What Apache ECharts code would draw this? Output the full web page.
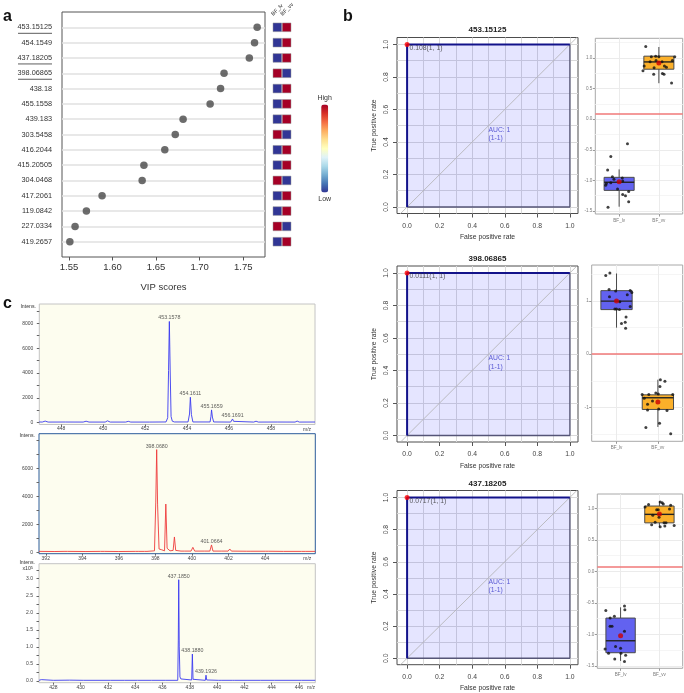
<!DOCTYPE html>
<html>
<head>
<meta charset="utf-8">
<script src="https://cdn.jsdelivr.net/npm/echarts@6.0.0/dist/echarts.min.js"></script>
<style>html,body{margin:0;padding:0;background:#fff;}#chart{width:684px;height:693px;}</style>
</head>
<body>
<div id="chart"></div>
<script>
// ================= DATA =================
// Panel a : VIP scores
const vipFeatures = ['453.15125','454.1549','437.18205','398.06865','438.18','455.1558','439.183','303.5458','416.2044','415.20505','304.0468','417.2061','119.0842','227.0334','419.2657'];
const vipScores   = [1.766,1.763,1.757,1.728,1.724,1.712,1.681,1.672,1.660,1.636,1.634,1.588,1.570,1.557,1.551];
const vipTicks    = [1.55,1.60,1.65,1.70,1.75];
const underlined  = ['453.15125','437.18205','398.06865'];
const heatGroups  = ['BF_lv','BF_vv'];
const heatLv      = [-1,-1,-1, 1,-1,-1,-1, 1,-1,-1, 1,-1,-1, 1,-1];
const heatVv      = [ 1, 1, 1,-1, 1, 1, 1,-1, 1, 1,-1, 1, 1,-1, 1];
const legendText  = ['High','Low'];

// Panel b : ROC curves
const rocTitles     = ['453.15125','398.06865','437.18205'];
const rocThresholds = ['0.108','0.0111','0.0717'];
const rocFpr  = [0,0,1];
const rocTpr  = [0,1,1];
const rocEdgeFpr = [1,1,0];
const rocEdgeTpr = [1,0,0];
const rocDiag = [-0.1,1.1];
const rocAucText = 'AUC: 1\n(1-1)';
const rocAucPos = [0.5,0.5];
const rocTicks = [0,0.2,0.4,0.6,0.8,1.0];
const rocGrid  = [0,0.1,0.2,0.3,0.4,0.5,0.6,0.7,0.8,0.9,1.0];

// Panel b : box plots
const bpGroups = ['BF_lv','BF_vv'];
const bp1LvX = [1.21,0.79,0.71,0.83,0.87,1.08,0.68,0.79,0.66,0.96,1.24,1.09,1.16,1.24,0.72,1.09];
const bp1LvY = [-0.40,-0.61,-0.83,-0.94,-0.98,-0.96,-1.05,-1.04,-1.08,-1.14,-1.18,-1.23,-1.25,-1.35,-1.44,-1.01];
const bp1VvX = [1.67,1.81,1.92,2.00,2.40,2.34,1.78,2.08,1.93,1.63,2.14,2.19,1.88,1.60,1.87,2.09,2.13,2.32];
const bp1VvY = [1.19,1.02,1.03,1.02,1.02,0.96,0.94,0.94,0.96,0.87,0.87,0.85,0.84,0.79,0.735,0.745,0.735,0.59];
const bp1Box = [[-1.43,-1.163,-1.03,-0.95,-0.82],[0.588,0.817,0.936,1.03,1.18]];
const bp1Mean = [-1.02,0.92];
const bp1Cut = 0.09;
const bp1Major = [-1.5,-1.0,-0.5,0.0,0.5,1.0];
const bp1Minor = [-1.25,-0.75,-0.25,0.25,0.75,1.25];

const bp2LvX = [0.74,0.84,0.82,0.98,1.33,1.37,0.83,1.26,1.08,1.33,0.96,1.00,1.07,1.23,1.21,1.12,1.22];
const bp2LvY = [1.48,1.53,1.22,1.19,1.20,1.16,1.08,1.12,0.99,0.90,0.85,0.85,0.84,0.70,0.60,0.58,0.49];
const bp2VvX = [2.06,2.17,2.05,1.62,1.78,1.95,2.01,2.36,1.67,1.87,1.75,2.02,1.75,2.22,2.04,1.71,2.31];
const bp2VvY = [-0.48,-0.51,-0.61,-0.76,-0.76,-0.73,-0.75,-0.76,-0.83,-0.88,-0.94,-1.03,-1.05,-1.06,-1.30,-1.38,-1.50];
const bp2Box = [[0.50,0.84,1.0,1.197,1.52],[-1.37,-1.04,-0.82,-0.765,-0.48]];
const bp2Mean = [1.0,-0.90];
const bp2Cut = 0.0;
const bp2Major = [-1,0,1];
const bp2Minor = [-1.5,-0.5,0.5,1.5];

const bp3LvX = [1.10,1.11,0.62,0.84,0.73,0.73,0.78,1.10,0.87,1.00,0.60,0.69,1.01,1.13,0.85,1.10];
const bp3LvY = [-0.55,-0.61,-0.62,-0.71,-0.74,-0.87,-0.87,-0.95,-1.19,-1.22,-1.23,-1.30,-1.30,-1.33,-1.39,-1.43];
const bp3VvX = [1.63,1.72,2.02,2.07,2.10,2.29,1.93,1.97,2.26,1.83,1.99,1.80,1.89,2.12,2.17,2.02,2.14,2.38];
const bp3VvY = [1.02,1.06,1.10,1.09,1.07,1.05,0.98,0.98,0.99,0.89,0.86,0.74,0.78,0.77,0.77,0.71,0.72,0.73];
const bp3Box = [[-1.42,-1.29,-1.10,-0.74,-0.57],[0.70,0.77,0.905,1.037,1.115]];
const bp3Mean = [-1.02,0.91];
const bp3Cut = 0.07;
const bp3Major = [-1.5,-1.0,-0.5,0.0,0.5,1.0];
const bp3Minor = [-1.25,-0.75,-0.25,0.25,0.75,1.25];

// Panel c : mass spectra
const spec1Mz  = [446.96,447.10,447.24,447.38,448.20,449.05,449.19,449.33,450.10,450.21,450.34,451.08,451.20,451.32,452.00,452.09,452.20,453.00,453.08,453.12,453.158,453.20,453.24,453.30,453.40,454.05,454.12,454.16,454.21,454.28,455.10,455.14,455.17,455.21,455.27,456.08,456.13,456.17,456.22,456.30,457.18,457.29,457.40,458.30,459.15,459.25,459.35,460.10];
const spec1Int = [60,50,130,50,55,50,120,50,50,150,50,50,110,50,50,100,50,60,400,4200,8150,4000,500,120,60,60,700,2050,650,60,60,500,1030,450,60,50,120,300,110,50,50,120,50,55,50,130,50,55];
const spec1PeakMz  = [453.158,454.16,455.17,456.17];
const spec1PeakInt = [8150,2050,1030,300];
const spec1PeakTxt = ['453.1578','454.1611','455.1659','456.1691'];
const spec1XTicks = [448,450,452,454,456,458];
const spec1YTicks = [0,2000,4000,6000,8000];
const spec1YMinor = [0,1000,2000,3000,4000,5000,6000,7000,8000,9000];

const spec2Mz  = [391.63,392.50,393.00,393.09,393.18,394.20,395.00,395.10,395.20,396.00,396.90,396.98,397.06,397.40,397.47,397.54,397.95,398.02,398.07,398.12,398.20,398.26,398.33,398.50,398.57,398.64,398.80,398.97,399.04,399.11,399.40,399.50,399.60,399.95,400.05,400.15,400.70,400.98,401.07,401.15,401.60,401.98,402.07,402.16,403.00,403.09,403.18,404.02,404.10,404.18,405.00,406.00,406.10,406.20,406.75];
const spec2Int = [80,70,80,200,80,70,80,180,80,70,80,170,80,80,200,80,120,3600,7350,3400,250,350,200,120,3460,300,120,150,1110,150,100,220,100,100,370,100,100,100,540,100,100,100,250,100,90,200,90,90,180,90,80,80,160,80,80];
const spec2PeakMz  = [398.07,401.07];
const spec2PeakInt = [7350,540];
const spec2PeakTxt = ['398.0680','401.0664'];
const spec2XTicks = [392,394,396,398,400,402,404];
const spec2YTicks = [0,2000,4000,6000];
const spec2YMinor = [0,1000,2000,3000,4000,5000,6000,7000,8000];

const spec3Mz  = [426.95,427.05,427.12,427.20,428.00,429.20,430.20,431.20,432.18,432.25,432.32,433.20,433.26,433.32,434.17,434.23,434.30,435.20,436.20,437.12,437.16,437.19,437.23,437.28,437.35,437.45,438.14,438.19,438.24,438.30,439.14,439.19,439.24,439.30,440.10,440.20,440.30,441.15,441.22,441.30,442.20,443.20,444.20,445.20,446.20,447.20];
const spec3Int = [0.02,0.02,0.04,0.02,0.02,0.025,0.02,0.02,0.02,0.06,0.02,0.02,0.04,0.02,0.02,0.05,0.02,0.02,0.02,0.02,1.2,2.97,1.0,0.12,0.06,0.03,0.03,0.79,0.05,0.02,0.02,0.17,0.03,0.02,0.02,0.035,0.02,0.02,0.03,0.02,0.02,0.02,0.02,0.02,0.02,0.02];
const spec3PeakMz  = [437.19,438.19,439.19];
const spec3PeakInt = [2.97,0.79,0.17];
const spec3PeakTxt = ['437.1850','438.1880','439.1926'];
const spec3XTicks = [428,430,432,434,436,438,440,442,444,446];
const spec3YTicks = [0,0.5,1.0,1.5,2.0,2.5,3.0];
const spec3YMinor = [0,0.25,0.5,0.75,1.0,1.25,1.5,1.75,2.0,2.25,2.5,2.75,3.0,3.25];

// ================= BUILD =================
const FONT = '"Liberation Sans", Arial, Helvetica, sans-serif';
const grids = [], xAxes = [], yAxes = [], series = [], graphics = [];
function addGrid(g){ grids.push(g); return grids.length - 1; }
function addX(a){ xAxes.push(a); return xAxes.length - 1; }
function addY(a){ yAxes.push(a); return yAxes.length - 1; }
const NOLINE = {show:false, onZero:false};
function helperAxis(gridIndex, min, max, pos, vals, color){
  return {gridIndex, type:'value', min, max, position:pos,
    axisLine:NOLINE, axisLabel:{show:false},
    axisTick:{show:false, customValues:vals},
    splitLine:{show:true, lineStyle:{color, width:1}}};
}

// ---- Panel a: VIP dot plot ----
const vipIdx = vipFeatures.map((_, i) => i);
const gA = addGrid({left:62, top:12, width:203, height:245, show:true, borderColor:'#555', borderWidth:1, backgroundColor:'#fff'});
const xA = addX({gridIndex:gA, type:'value', min:1.542, max:1.775, position:'bottom',
  axisLine:NOLINE,
  axisTick:{show:true, length:3.5, customValues:vipTicks, lineStyle:{color:'#555'}},
  axisLabel:{customValues:vipTicks, formatter:v => v.toFixed(2), fontSize:9.5, color:'#333', margin:5},
  splitLine:{show:false},
  name:'VIP scores', nameLocation:'middle', nameGap:25, nameTextStyle:{fontSize:9.5, color:'#333'}});
const yA = addY({gridIndex:gA, type:'value', min:-1, max:15, inverse:true, position:'left',
  axisLine:NOLINE,
  axisTick:{show:false, customValues:vipIdx},
  axisLabel:{customValues:vipIdx, formatter:v => vipFeatures[Math.round(v)] || '', fontSize:7.3, color:'#333', margin:10},
  splitLine:{show:true, lineStyle:{color:'#e0e0e0', width:1.5}}});
series.push({type:'scatter', xAxisIndex:xA, yAxisIndex:yA, data:vipScores.map((v, i) => [v, i]),
  symbolSize:7.5, itemStyle:{color:'#474747'}, z:5, silent:true});

// ---- heat strip ----
const gH = addGrid({left:272.7, top:12, width:18.6, height:245});
const xH = addX({gridIndex:gH, type:'category', data:heatGroups, position:'top',
  axisLine:NOLINE, axisTick:{show:false}, axisLabel:{show:false}});
const yH = addY({gridIndex:gH, type:'value', min:-1, max:15, inverse:true, show:false, axisLine:NOLINE});
const heatData = [];
vipFeatures.forEach((_, i) => { heatData.push([0, i, heatLv[i]]); heatData.push([1, i, heatVv[i]]); });
const heatSeriesIndex = series.length;
series.push({type:'scatter', xAxisIndex:xH, yAxisIndex:yH, data:heatData, symbol:'rect', symbolSize:8.7,
  itemStyle:{borderColor:'#999', borderWidth:0.5, opacity:1}, silent:true});

// ---- Panel b: ROC curves ----
const RF = 6.8;
const rocLayout = [{top:37.5, height:176, title:30}, {top:266, height:176, title:258.5}, {top:490.5, height:175, title:484}];
rocLayout.forEach((L, r) => {
  const g = addGrid({left:397, top:L.top, width:181, height:L.height, show:true, borderColor:'#4d4d4d', borderWidth:1, backgroundColor:'#fff'});
  const xm = addX({gridIndex:g, type:'value', min:-0.062, max:1.05, position:'bottom',
    axisLine:NOLINE,
    axisTick:{show:true, length:4, customValues:rocTicks, lineStyle:{color:'#555'}},
    axisLabel:{customValues:rocTicks, formatter:v => v.toFixed(1), fontSize:RF, color:'#444', margin:9},
    splitLine:{show:false},
    name:'False positive rate', nameLocation:'middle', nameGap:20.3, nameTextStyle:{fontSize:RF, color:'#333'}});
  addX(helperAxis(g, -0.062, 1.05, 'top', rocGrid, '#d9d9d9'));
  const ym = addY({gridIndex:g, type:'value', min:-0.04, max:1.043, position:'left',
    axisLine:NOLINE,
    axisTick:{show:true, length:4, customValues:rocTicks, lineStyle:{color:'#555'}},
    axisLabel:{customValues:rocTicks, formatter:v => v.toFixed(1), rotate:90, fontSize:RF, color:'#444', margin:7},
    splitLine:{show:false},
    name:'True positive rate', nameLocation:'middle', nameGap:19.6, nameTextStyle:{fontSize:RF, color:'#333'}});
  addY(helperAxis(g, -0.04, 1.043, 'right', rocGrid, '#d9d9d9'));
  const curve = rocFpr.map((x, i) => [x, rocTpr[i]]);
  series.push({type:'line', xAxisIndex:xm, yAxisIndex:ym, data:curve, symbol:'none',
    lineStyle:{width:0}, areaStyle:{color:'rgba(30,30,255,0.16)', origin:0}, z:2, silent:true});
  series.push({type:'line', xAxisIndex:xm, yAxisIndex:ym, data:rocDiag.map(v => [v, v]), symbol:'none',
    lineStyle:{color:'#b0b0b0', width:0.8}, z:3, silent:true});
  series.push({type:'line', xAxisIndex:xm, yAxisIndex:ym, data:rocEdgeFpr.map((x, i) => [x, rocEdgeTpr[i]]), symbol:'none',
    lineStyle:{color:'#555577', width:1.3}, z:3, silent:true});
  series.push({type:'line', xAxisIndex:xm, yAxisIndex:ym, data:curve, symbol:'none',
    lineStyle:{color:'#12128a', width:2}, z:4, silent:true});
  series.push({type:'scatter', xAxisIndex:xm, yAxisIndex:ym, data:[[rocFpr[1], rocTpr[1]]], symbolSize:5,
    itemStyle:{color:'#ff0000'}, z:6, silent:true,
    label:{show:true, position:'right', distance:1, offset:[-1, 3.5], formatter:() => rocThresholds[r] + '(1, 1)', fontSize:RF, color:'#333', fontFamily:FONT}});
  series.push({type:'scatter', xAxisIndex:xm, yAxisIndex:ym, data:[rocAucPos], symbolSize:0, z:6, silent:true,
    label:{show:true, position:[0, 0], align:'left', verticalAlign:'top', formatter:rocAucText, fontSize:RF, lineHeight:8.5, color:'#3434c8', fontFamily:FONT}});
  graphics.push({type:'text', id:'rt' + r, x:487.5, y:L.title,
    style:{text:rocTitles[r], font:'bold 8px ' + FONT, fill:'#222', align:'center', verticalAlign:'middle', textAlign:'center', textVerticalAlign:'middle'}});
});

// ---- Panel b: box plots ----
const bpSets = [
  {lvX:bp1LvX, lvY:bp1LvY, vvX:bp1VvX, vvY:bp1VvY, box:bp1Box, mean:bp1Mean, cut:bp1Cut, major:bp1Major, minor:bp1Minor, fmt:v => v.toFixed(1)},
  {lvX:bp2LvX, lvY:bp2LvY, vvX:bp2VvX, vvY:bp2VvY, box:bp2Box, mean:bp2Mean, cut:bp2Cut, major:bp2Major, minor:bp2Minor, fmt:v => String(v)},
  {lvX:bp3LvX, lvY:bp3LvY, vvX:bp3VvX, vvY:bp3VvY, box:bp3Box, mean:bp3Mean, cut:bp3Cut, major:bp3Major, minor:bp3Minor, fmt:v => v.toFixed(1)}
];
const bpLayout = [
  {left:595.3, top:38.3, width:87.4, height:175.7, min:-1.549, max:1.322},
  {left:591.7, top:265, width:91, height:176.3, min:-1.64, max:1.68},
  {left:597.3, top:494, width:85.4, height:174.3, min:-1.537, max:1.228}
];
const boxFill = ['#6262f0', '#fbb02a'];
const boxHalfWidth = 0.378;
bpSets.forEach((S, b) => {
  const L = bpLayout[b];
  const g = addGrid({left:L.left, top:L.top, width:L.width, height:L.height, show:true, borderColor:'#a8a8a8', borderWidth:1, backgroundColor:'#fff'});
  const xm = addX({gridIndex:g, type:'value', min:0.4, max:2.6, position:'bottom',
    axisLine:NOLINE,
    axisTick:{show:true, length:2.5, customValues:[1, 2], lineStyle:{color:'#999'}},
    axisLabel:{customValues:[1, 2], formatter:v => bpGroups[Math.round(v) - 1], fontSize:4.6, color:'#7a7a7a', margin:4},
    splitLine:{show:true, lineStyle:{color:'#ebebeb'}}});
  const ym = addY({gridIndex:g, type:'value', min:L.min, max:L.max, position:'left',
    axisLine:NOLINE,
    axisTick:{show:true, length:2.5, customValues:S.major, lineStyle:{color:'#999'}},
    axisLabel:{customValues:S.major, formatter:S.fmt, fontSize:4.6, color:'#7a7a7a', margin:3},
    splitLine:{show:true, lineStyle:{color:'#ebebeb'}}});
  addY(helperAxis(g, L.min, L.max, 'right', S.minor, '#f5f5f5'));
  series.push({type:'custom', xAxisIndex:xm, yAxisIndex:ym, z:3, silent:true,
    data:S.box.map((bx, i) => [i + 1].concat(bx)),
    renderItem:(params, api) => {
      const x = api.value(0), lo = api.value(1), q1 = api.value(2), med = api.value(3), q3 = api.value(4), hi = api.value(5);
      const pLo = api.coord([x, lo]), pHi = api.coord([x, hi]);
      const tl = api.coord([x - boxHalfWidth, q3]), br = api.coord([x + boxHalfWidth, q1]);
      const ml = api.coord([x - boxHalfWidth, med]), mr = api.coord([x + boxHalfWidth, med]);
      return {type:'group', children:[
        {type:'line', shape:{x1:pLo[0], y1:pLo[1], x2:pHi[0], y2:pHi[1]}, style:{stroke:'#4a4a4a', lineWidth:1}},
        {type:'rect', shape:{x:tl[0], y:tl[1], width:br[0] - tl[0], height:br[1] - tl[1]}, style:{fill:boxFill[params.dataIndex], stroke:'#4a4a4a', lineWidth:1}},
        {type:'line', shape:{x1:ml[0], y1:ml[1], x2:mr[0], y2:mr[1]}, style:{stroke:'#222', lineWidth:1.4}}
      ]};
    }});
  const pts = S.lvX.map((x, i) => [x, S.lvY[i]]).concat(S.vvX.map((x, i) => [x, S.vvY[i]]));
  series.push({type:'scatter', xAxisIndex:xm, yAxisIndex:ym, data:pts, symbolSize:3, itemStyle:{color:'#111'}, z:5, silent:true,
    markLine:{silent:true, symbol:['none', 'none'], label:{show:false}, lineStyle:{color:'#f07878', width:1.5, type:'solid'}, data:[{yAxis:S.cut}]}});
  series.push({type:'scatter', xAxisIndex:xm, yAxisIndex:ym, data:S.mean.map((m, i) => [i + 1, m]), symbolSize:5, itemStyle:{color:'#cc0000'}, z:6, silent:true});
});

// ---- Panel c: spectra ----
const SF = 5;
const specSets = [
  {mz:spec1Mz, it:spec1Int, pmz:spec1PeakMz, pit:spec1PeakInt, ptx:spec1PeakTxt, xt:spec1XTicks, yt:spec1YTicks, ym:spec1YMinor, color:'#3a3af0', fmt:v => String(v)},
  {mz:spec2Mz, it:spec2Int, pmz:spec2PeakMz, pit:spec2PeakInt, ptx:spec2PeakTxt, xt:spec2XTicks, yt:spec2YTicks, ym:spec2YMinor, color:'#ee3b3b', fmt:v => String(v)},
  {mz:spec3Mz, it:spec3Int, pmz:spec3PeakMz, pit:spec3PeakInt, ptx:spec3PeakTxt, xt:spec3XTicks, yt:spec3YTicks, ym:spec3YMinor, color:'#3a3af0', fmt:v => v.toFixed(1)}
];
const specLayout = [
  {left:39.3, top:304, width:275.7, height:120.5, xmin:446.96, xmax:460.1, ymin:-145, ymax:9556, border:'#c4c4c4'},
  {left:39, top:433.7, width:276.3, height:120, xmin:391.63, xmax:406.75, ymin:-86, ymax:8486, border:'#2c5c9a'},
  {left:39, top:563.7, width:276.3, height:119, xmin:426.95, xmax:447.2, ymin:-0.05, ymax:3.44, border:'#c4c4c4'}
];
specSets.forEach((S, s) => {
  const L = specLayout[s];
  const g = addGrid({left:L.left, top:L.top, width:L.width, height:L.height, show:true, borderColor:L.border, borderWidth:1, backgroundColor:'#fdfdef'});
  const xm = addX({gridIndex:g, type:'value', min:L.xmin, max:L.xmax, position:'bottom',
    axisLine:NOLINE,
    axisTick:{show:true, length:2, customValues:S.xt, lineStyle:{color:'#666'}},
    axisLabel:{customValues:S.xt, formatter:v => String(v), fontSize:SF, color:'#444', margin:2},
    splitLine:{show:false},
    name:'m/z', nameLocation:'end', nameGap:-12, nameTextStyle:{fontSize:SF, color:'#444', verticalAlign:'top', padding:[2.5, 0, 0, 0]}});
  const ym = addY({gridIndex:g, type:'value', min:L.ymin, max:L.ymax, position:'left',
    axisLine:NOLINE,
    axisTick:{show:true, length:2.5, customValues:S.ym, lineStyle:{color:'#666'}},
    axisLabel:{customValues:S.yt, formatter:S.fmt, fontSize:SF, color:'#444', margin:6},
    splitLine:{show:false}});
  series.push({type:'line', xAxisIndex:xm, yAxisIndex:ym, data:S.mz.map((m, i) => [m, S.it[i]]), symbol:'none',
    lineStyle:{color:S.color, width:0.9}, z:3, silent:true});
  series.push({type:'scatter', xAxisIndex:xm, yAxisIndex:ym, data:S.pmz.map((m, i) => [m, S.pit[i]]), symbolSize:0, z:4, silent:true,
    label:{show:true, position:'top', distance:1, formatter:p => S.ptx[p.dataIndex], fontSize:5.3, color:'#333', fontFamily:FONT}});
});

// ---- texts ----
function txt(id, text, x, y, font, align, valign, fill){
  return {type:'text', id, x, y, style:{text, font, fill:fill || '#111', align, verticalAlign:valign, textAlign:align, textVerticalAlign:valign}};
}
graphics.push(txt('la', 'a', 3, 25, 'bold 16px ' + FONT, 'left', 'bottom'));
graphics.push(txt('lb', 'b', 343, 25, 'bold 16px ' + FONT, 'left', 'bottom'));
graphics.push(txt('lc', 'c', 3, 312, 'bold 16px ' + FONT, 'left', 'bottom'));
graphics.push(txt('i1', 'Intens.', 36, 307, '5.2px ' + FONT, 'right', 'middle', '#333'));
graphics.push(txt('i2', 'Intens.', 35, 436, '5.2px ' + FONT, 'right', 'middle', '#333'));
graphics.push(txt('i3', 'Intens.', 35, 562.5, '5.2px ' + FONT, 'right', 'middle', '#333'));
graphics.push({type:'text', id:'i3e', x:33, y:569, style:{text:'{a|x10}{b|5}', align:'right', verticalAlign:'middle', textAlign:'right', textVerticalAlign:'middle',
  rich:{a:{fontSize:5.2, fill:'#333', fontFamily:FONT}, b:{fontSize:4, fill:'#333', fontFamily:FONT, verticalAlign:'top', padding:[0, 0, 3, 0]}}}});

const option = {
  animation:false,
  backgroundColor:'#fff',
  textStyle:{fontFamily:FONT},
  grid:grids, xAxis:xAxes, yAxis:yAxes, series,
  visualMap:[{type:'continuous', seriesIndex:heatSeriesIndex, dimension:2, min:-1, max:1, calculable:false, orient:'vertical',
    left:302.5, top:79.5, itemWidth:7, itemHeight:88, text:legendText, textGap:3,
    textStyle:{fontSize:7, color:'#333', fontFamily:FONT},
    inRange:{color:['#313695','#4575b4','#74add1','#abd9e9','#e0f3f8','#ffffbf','#fee090','#fdae61','#f46d43','#d73027','#a50026']}}],
  graphic:graphics
};

const chart = echarts.init(document.getElementById('chart'), null, {renderer:'canvas'});
chart.setOption(option);
// underline selected feature labels
const extra = underlined.map((name, k) => {
  const i = vipFeatures.indexOf(name);
  const py = chart.convertToPixel({xAxisIndex:xA, yAxisIndex:yA}, [vipScores[i], i])[1] + 6;
  return {type:'line', id:'ul' + k, shape:{x1:18, y1:py, x2:52, y2:py}, style:{stroke:'#333', lineWidth:0.8}};
});
// rotated column headers of the heat strip
heatGroups.forEach((name, ci) => {
  const p = chart.convertToPixel({xAxisIndex:xH, yAxisIndex:yH}, [ci, -1]);
  extra.push({type:'text', id:'hh' + ci, x:p[0] - 3, y:17, rotation:Math.PI / 4, originX:0, originY:0,
    style:{text:name, font:'5.5px ' + FONT, fill:'#333', align:'left', verticalAlign:'bottom', textAlign:'left', textVerticalAlign:'bottom'}});
});
chart.setOption({graphic:extra});
</script>
</body>
</html>
